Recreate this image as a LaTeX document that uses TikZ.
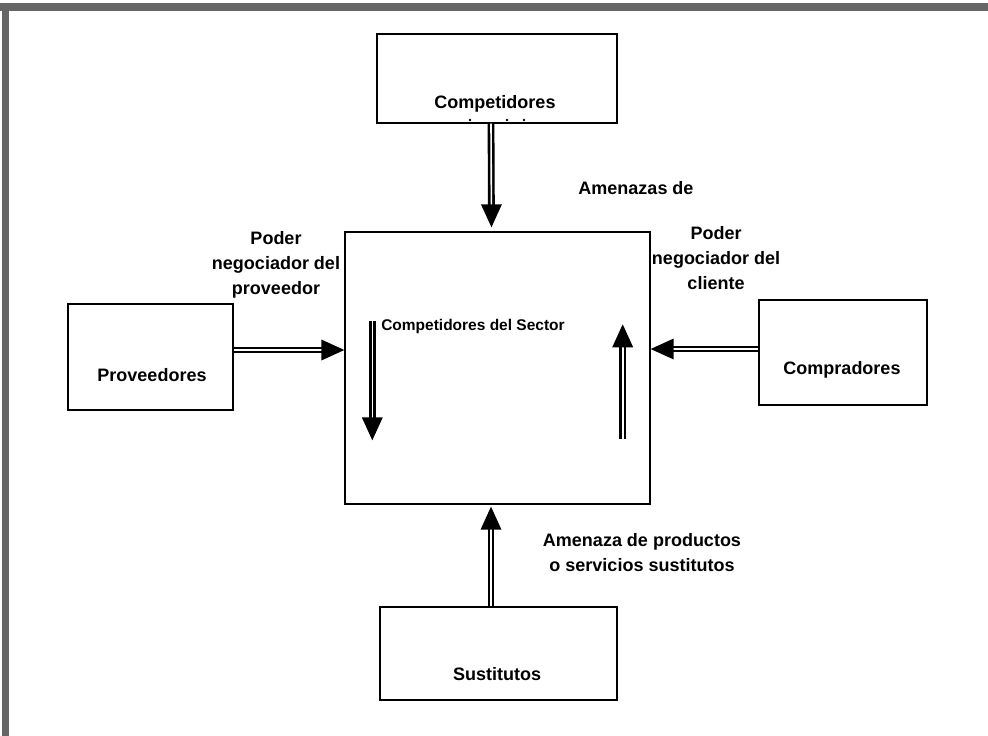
\documentclass[tikz,border=0pt]{standalone}
\usepackage{fontspec}
\setmainfont{Liberation Sans}
\usetikzlibrary{calc,decorations.markings}

\tikzset{
  box/.style={draw=black, line width=1.4pt, fill=white, inner sep=0pt},
  lbl/.style={font=\bfseries\fontsize{18}{25}\selectfont, inner sep=0pt, align=center},
  smalllbl/.style={font=\bfseries\fontsize{15.5}{20}\selectfont, inner sep=0pt, align=center},
  % double-lined shaft ending in a solid triangular head
  dbl/.style={draw=black, line width=2.6pt, double=white, double distance=1.6pt,
    shorten >=18pt, postaction={decorate},
    decoration={markings, mark=at position 1 with {
      \fill[black, shorten >=0pt, shorten <=0pt] (0pt,0pt) -- (-23pt,10.5pt) -- (-23pt,-10.5pt) -- cycle;}}},
  scanedge/.style={fill=black!60, draw=none}
}

\begin{document}
\begin{tikzpicture}[x=1pt, y=-1pt]
  \useasboundingbox (0,0) rectangle (988,736);
  \fill[white] (0,0) rectangle (988,736);

  % dark scanned edges along the top and left
  \fill[scanedge] (0,3) rectangle (988,11);
  \fill[scanedge] (2,3) rectangle (9,736);

  % boxes
  \node[box, minimum width=305, minimum height=272] (main) at (497.5,368) {};
  \node[box, minimum width=240, minimum height=89]  (comp) at (497,78.5) {};
  \node[box, minimum width=165, minimum height=106] (prov) at (150.5,357) {};
  \node[box, minimum width=168, minimum height=105] (cli)  at (843,352.5) {};
  \node[box, minimum width=237, minimum height=93]  (sust) at (498.5,653.5) {};

  % box captions
  \node[lbl, anchor=base] (compt) at (495,108) {Competidores};
  \node[smalllbl, anchor=base] (maint) at (473,330) {Competidores del Sector};
  \node[lbl, anchor=base] (provt) at (152,381) {Proveedores};
  \node[lbl, anchor=base] (clit)  at (842,374) {Compradores};
  \node[lbl, anchor=base] (sustt) at (497,680) {Sustitutos};

  % small marks under the top caption
  \fill (470,120) circle (1.3);
  \fill (507,120) circle (1.3);
  \fill (524,120) circle (1.3);

  % forces acting on the sector
  \draw[dbl] ($(comp.south)+(-6,0)$) -- ($(main.north)+(-6,-4)$);
  \draw[dbl] ($(prov.east)+(0,-7)$) -- ($(main.west)+(0,-18)$);
  \draw[dbl] ($(cli.west)+(0,-3.5)$) -- ($(main.east)+(0,-19)$);
  \draw[dbl] ($(sust.north)+(-7.5,0)$) -- ($(main.south)+(-6.5,2)$);

  % rivalry inside the sector
  \coordinate (dtop) at ($(main.north west)+(28,90)$);
  \coordinate (dbot) at ($(main.north west)+(28,209)$);
  \coordinate (ubot) at ($(main.north east)+(-28,208)$);
  \coordinate (utop) at ($(main.north east)+(-28,93)$);
  \draw[dbl] (dtop) -- (dbot);
  \draw[dbl] (ubot) -- (utop);

  % force labels
  \node[lbl] (lamen) at (636,188) {Amenazas de};
  \node[lbl] (lprov) at (276,265) {Poder\\negociador del\\proveedor};
  \node[lbl] (lcli)  at (716,258) {Poder\\negociador del\\cliente};
  \node[lbl] (lsust) at (642,553) {Amenaza de productos\\o servicios sustitutos};
\end{tikzpicture}
\end{document}
